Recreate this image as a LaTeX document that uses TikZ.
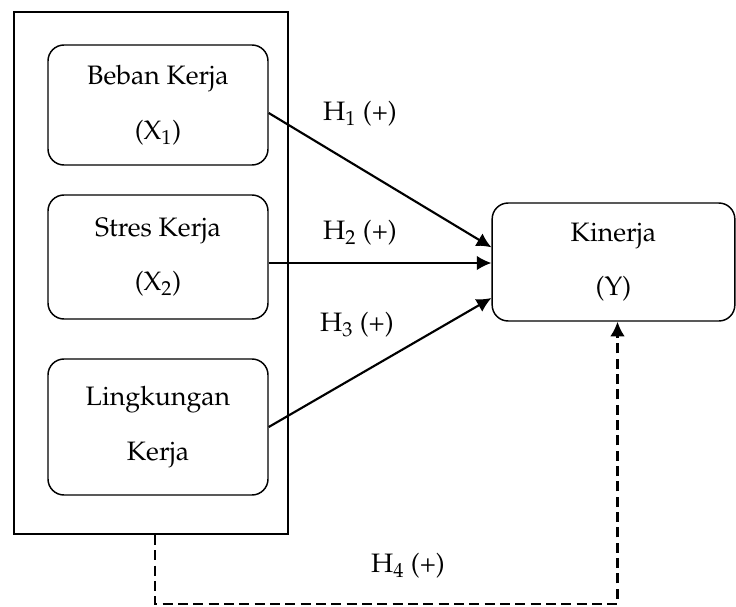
\documentclass[tikz,border=0pt]{standalone}
\usepackage[T1]{fontenc}
\usepackage{mathpazo}
\usepackage{tikz}
\usetikzlibrary{arrows.meta, positioning, calc}

\begin{document}
\begin{tikzpicture}[
  x=0.75pt, y=-0.75pt,
  var/.style={
    draw, rounded corners=12pt, line width=1.1pt,
    minimum width=165pt, align=center,
    font=\fontsize{20}{41}\selectfont
  },
  hyp/.style={font=\fontsize{20}{24}\selectfont},
  arr/.style={-{Latex[length=11pt, width=11pt]}, line width=1.6pt},
  darr/.style={arr, dash pattern=on 7.5pt off 4pt}
]
\useasboundingbox (0,0) rectangle (736,607);

% Independent variables
\node[draw, line width=1.3pt, minimum width=205.5pt, minimum height=391.5pt] (frame) at (151,273) {};
\node[var, minimum height=90pt]  (beban)  at (158,105) {Beban Kerja\\(X\textsubscript{1})};
\node[var, minimum height=93pt]  (stres)  at (158,257) {Stres Kerja\\(X\textsubscript{2})};
\node[var, minimum height=102pt] (lingk)  at (158,427) {Lingkungan\\Kerja};

% Dependent variable
\node[var, minimum width=182pt, minimum height=88.5pt] (kinerja) at (613.5,262) {Kinerja\\(Y)};

% Hypotheses
\draw[arr] ([yshift=-6pt]beban.east) -- ([yshift=11pt]kinerja.west);
\draw[arr] ([yshift=-4.5pt]stres.east) -- ([yshift=-4.5pt]stres.east -| kinerja.west);
\draw[arr] (lingk.east) -- ([yshift=-27pt]kinerja.west);
\draw[darr] ([xshift=3pt]frame.south) -- ++(0,69) -| ([xshift=3pt]kinerja.south);

\node[hyp] (h1) at (360,114) {H\textsubscript{1} (+)};
\node[hyp] (h2) at (360,233) {H\textsubscript{2} (+)};
\node[hyp] (h3) at (357,325) {H\textsubscript{3} (+)};
\node[hyp] (h4) at (408,566) {H\textsubscript{4} (+)};

\end{tikzpicture}
\end{document}
